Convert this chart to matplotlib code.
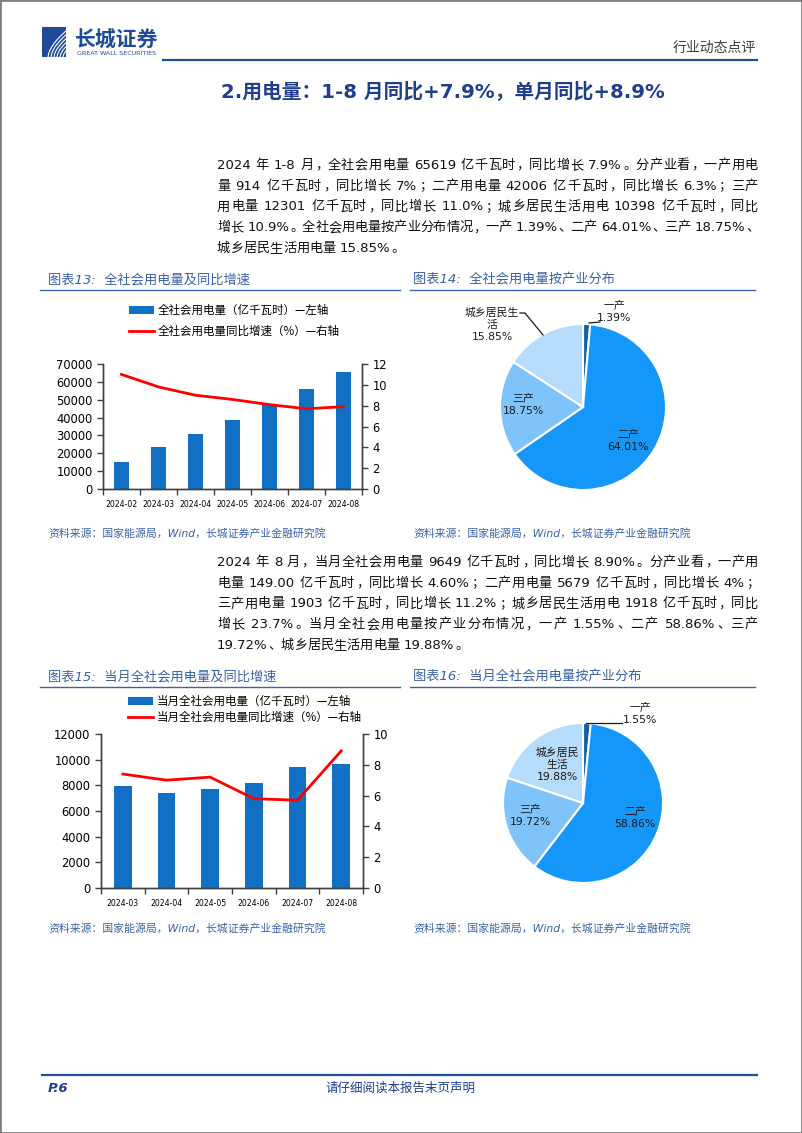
import matplotlib
matplotlib.use('Agg')
import matplotlib.pyplot as plt
from matplotlib.patches import Rectangle
from matplotlib.lines import Line2D
import numpy as np

# ---------------- data ----------------
months13 = ['2024-02', '2024-03', '2024-04', '2024-05', '2024-06', '2024-07', '2024-08']
cum_power = [15316, 23373, 30751, 38370, 47539, 56036, 65619]
cum_yoy = [11.0, 9.8, 9.0, 8.6, 8.1, 7.7, 7.9]

months15 = ['2024-03', '2024-04', '2024-05', '2024-06', '2024-07', '2024-08']
mon_power = [7941, 7412, 7751, 8202, 9396, 9649]
mon_yoy = [7.4, 7.0, 7.2, 5.8, 5.7, 8.9]

sectors14 = ['一产', '二产', '三产', '城乡居民生\n活']
share14 = [1.39, 64.01, 18.75, 15.85]
sectors16 = ['一产', '二产', '三产', '城乡居民\n生活']
share16 = [1.55, 58.86, 19.72, 19.88]

legend13 = ['全社会用电量（亿千瓦时）—左轴', '全社会用电量同比增速（%）—右轴']
legend15 = ['当月全社会用电量（亿千瓦时）—左轴', '当月全社会用电量同比增速（%）—右轴']

para1 = ['2024 年 1-8 月，全社会用电量 65619 亿千瓦时，同比增长 7.9%。分产业看，一产用电',
         '量 914 亿千瓦时，同比增长 7%；二产用电量 42006 亿千瓦时，同比增长 6.3%；三产',
         '用电量 12301 亿千瓦时，同比增长 11.0%；城乡居民生活用电 10398 亿千瓦时，同比',
         '增长 10.9%。全社会用电量按产业分布情况，一产 1.39%、二产 64.01%、三产 18.75%、',
         '城乡居民生活用电量 15.85%。']
para2 = ['2024 年 8 月，当月全社会用电量 9649 亿千瓦时，同比增长 8.90%。分产业看，一产用',
         '电量 149.00 亿千瓦时，同比增长 4.60%；二产用电量 5679 亿千瓦时，同比增长 4%；',
         '三产用电量 1903 亿千瓦时，同比增长 11.2%；城乡居民生活用电 1918 亿千瓦时，同比',
         '增长 23.7%。当月全社会用电量按产业分布情况，一产 1.55%、二产 58.86%、三产',
         '19.72%、城乡居民生活用电量 19.88%。']

# ---------------- style ----------------
MIX = ['DejaVu Sans', 'Noto Sans CJK SC']
CJK = ['Noto Sans CJK SC', 'DejaVu Sans']
plt.rcParams['font.family'] = MIX
BAR = '#1270C4'
RED = '#FF0000'
PIE_COLORS = ['#0F62AE', '#1597FA', '#7EC4FB', '#B6DCFB']
TITLE_BLUE = '#3A62A7'
DARK_BLUE = '#1F3E8C'

W, H = 802, 1133
fig = plt.figure(figsize=(W / 100, H / 100), dpi=100)
fig.patch.set_facecolor('white')
renderer = fig.canvas.get_renderer()


def fx(x):
    return x / W


def fy(y):
    return 1 - y / H


def add_ax(x0, y0, x1, y1):
    return fig.add_axes([x0 / W, 1 - y1 / H, (x1 - x0) / W, (y1 - y0) / H])


def ftext(x, y, s, **kw):
    return fig.text(fx(x), fy(y), s, **kw)


def hline(x0, x1, y, color, lw):
    fig.add_artist(Line2D([fx(x0), fx(x1)], [fy(y), fy(y)], transform=fig.transFigure,
                          color=color, lw=lw))


# page border
fig.add_artist(Rectangle((0, 0), 1, 1, transform=fig.transFigure, fill=False,
                         edgecolor='#808080', lw=2))

# ---------------- header ----------------
fig.add_artist(Rectangle((fx(42), fy(57)), (66 - 42) / W, 30 / H, transform=fig.transFigure,
                         facecolor='#1E4C9A', edgecolor='none'))
for k in range(6):
    t = np.linspace(0, 1, 20)
    xs = 48 + k * 3 + t * (18 - k * 2)
    ys = 57 - t ** 0.6 * (26 - k * 3)
    fig.add_artist(Line2D(fx(xs), fy(ys), transform=fig.transFigure, color='white', lw=0.8))
ftext(75, 40, '长城证券', fontsize=15, fontweight='bold', color='#1E4C9A', family=CJK, va='center')
ftext(77, 53.5, 'GREAT WALL SECURITIES', fontsize=4.6, color='#1E4C9A', va='center')
ftext(756, 48, '行业动态点评', fontsize=10, color='#404040', family=CJK, ha='right', va='center')
hline(163, 757, 59.5, '#1F4E9A', 1.6)

ftext(443, 92, '2.用电量：1-8 月同比+7.9%，单月同比+8.9%', fontsize=14.2, fontweight='bold',
      color=DARK_BLUE, ha='center', va='center')


# ---------------- paragraphs ----------------
def tokenize(s):
    toks, buf = [], ''
    for ch in s:
        if ch == ' ':
            if buf:
                toks.append(buf)
                buf = ''
            toks.append(' ')
        elif ord(ch) < 128:
            buf += ch
        else:
            if buf:
                toks.append(buf)
                buf = ''
            toks.append(ch)
    if buf:
        toks.append(buf)
    return toks


def draw_line(x0, x1, yc, s, size, justify):
    em = size * 100 / 72
    toks = tokenize(s)
    widths = []
    for t in toks:
        if t == ' ':
            widths.append(0.3 * em)
        elif ord(t[0]) >= 128:
            widths.append(em)
        else:
            tt = fig.text(0, 0, t, fontsize=size, family=MIX)
            widths.append(tt.get_window_extent(renderer).width)
            tt.remove()
    gap = (x1 - x0 - sum(widths)) / (len(toks) - 1) if justify else 0.0
    x = x0
    yb = yc + 0.36 * em
    for t, w in zip(toks, widths):
        if t != ' ':
            if ord(t[0]) >= 128:
                if t in '，。、；：':
                    ftext(x + 0.08 * em, yb, t, fontsize=size, family=CJK, color='#111111',
                          ha='left', va='baseline')
                else:
                    ftext(x + w / 2, yb, t, fontsize=size, family=CJK, color='#111111',
                          ha='center', va='baseline')
            else:
                ftext(x, yb, t, fontsize=size, family=MIX, color='#111111', ha='left', va='baseline')
        x += w + gap


def paragraph(lines, y0, step):
    for i, s in enumerate(lines):
        draw_line(217, 758, y0 + i * step, s, 9.5, i < len(lines) - 1)


paragraph(para1, 164, 20.8)
paragraph(para2, 561, 20.8)


# ---------------- chart titles / sources ----------------
def chart_title(x, y, s, x0, x1):
    ftext(x, y, s, fontsize=9.5, style='italic', color=TITLE_BLUE, va='center')
    hline(x0, x1, y + 9.5, TITLE_BLUE, 1.0)


chart_title(48, 280, '图表13:  全社会用电量及同比增速', 40, 400)
chart_title(413, 280, '图表14:  全社会用电量按产业分布', 410, 755)
chart_title(48, 677, '图表15:  当月全社会用电量及同比增速', 40, 400)
chart_title(413, 677, '图表16:  当月全社会用电量按产业分布', 410, 755)

src = '资料来源：国家能源局，Wind，长城证券产业金融研究院'
for (x, y) in [(48, 533), (413, 533), (48, 928), (413, 928)]:
    ftext(x, y, src, fontsize=7.8, style='italic', color=TITLE_BLUE, va='center')


# ---------------- bar + line charts ----------------
def bar_chart(box, cats, vals, yoy, lmax, lstep, rmax, rstep, labels, leg_xy, leg_sp):
    ax = add_ax(*box)
    x = np.arange(len(cats))
    bars = ax.bar(x, vals, width=0.4, color=BAR, zorder=2)
    ax.set_xlim(-0.5, len(cats) - 0.5)
    ax.set_ylim(0, lmax)
    ax.set_yticks(np.arange(0, lmax + 1, lstep))
    ax.set_xticks(x)
    ax.set_xticklabels(cats, fontsize=5.6)
    ax.set_xticks(np.arange(-0.5, len(cats), 1), minor=True)
    ax.tick_params(axis='x', which='major', length=0, pad=8)
    ax.tick_params(axis='x', which='minor', length=4, width=1, color='#404040')
    ax.tick_params(axis='y', labelsize=8.3, length=4, width=1, color='#404040')
    ax2 = ax.twinx()
    line, = ax2.plot(x, yoy, color=RED, lw=2, zorder=3)
    ax2.set_ylim(0, rmax)
    ax2.set_yticks(np.arange(0, rmax + 0.1, rstep))
    ax2.tick_params(axis='y', labelsize=8.3, length=4, width=1, color='#404040')
    for a in (ax, ax2):
        a.spines['top'].set_visible(False)
        for sp in ('left', 'right', 'bottom'):
            a.spines[sp].set_color('#404040')
            a.spines[sp].set_linewidth(1)
    fig.legend([bars, line], labels, loc='upper left',
               bbox_to_anchor=(fx(leg_xy[0]), fy(leg_xy[1])), bbox_transform=fig.transFigure,
               frameon=False, prop={'family': CJK, 'size': 8.3}, handlelength=2.2,
               handleheight=0.6, handletextpad=0.3, labelspacing=leg_sp, borderpad=0,
               borderaxespad=0)
    return ax


bar_chart((103, 364, 362, 489), months13, cum_power, cum_yoy, 70000, 10000, 12, 2,
          legend13, (129, 304), 0.65)
bar_chart((101, 734, 363, 888), months15, mon_power, mon_yoy, 12000, 2000, 10, 2,
          legend15, (128, 695), 0.22)


# ---------------- pies ----------------
def pie_chart(cx, cy, r, shares, names, label_off, leader):
    half = 140
    ax = add_ax(cx - half, cy - half, cx + half, cy + half)
    ax.pie(shares, colors=PIE_COLORS, startangle=90, counterclock=False, radius=1,
           wedgeprops=dict(edgecolor='white', linewidth=1.5))
    lim = half / r
    ax.set_xlim(-lim, lim)
    ax.set_ylim(-lim, lim)
    ax.set_aspect('equal')
    ax.axis('off')
    for name, v, (px, py) in zip(names, shares, label_off):
        ax.text((px - cx) / r, (cy - py) / r, f'{name}\n{v:.2f}%', ha='center', va='center',
                fontsize=7.8, color='#1a1a1a', linespacing=1.25, family=MIX)
    for pts in leader:
        ax.plot([(p[0] - cx) / r for p in pts], [(cy - p[1]) / r for p in pts],
                color='#1a1a1a', lw=0.9, clip_on=False)


pie_chart(583, 407, 83, share14, sectors14,
          [(614, 312), (628, 441), (523, 405), (492, 325)],
          [[(589, 323), (600, 322)], [(543, 335), (525, 313), (520, 313)]])
pie_chart(583, 803, 80, share16, sectors16,
          [(640, 714), (635, 818), (530, 816), (557, 765)],
          [[(586, 723), (622, 723)]])

# ---------------- footer ----------------
hline(42, 757, 1075, '#1F4E9A', 1.6)
ftext(48, 1088, 'P.6', fontsize=9.5, fontweight='bold', style='italic', color=DARK_BLUE, va='center')
ftext(401, 1088, '请仔细阅读本报告末页声明', fontsize=9, style='italic', color=DARK_BLUE,
      ha='center', va='center', family=CJK)

fig.savefig('out.png', dpi=100)
